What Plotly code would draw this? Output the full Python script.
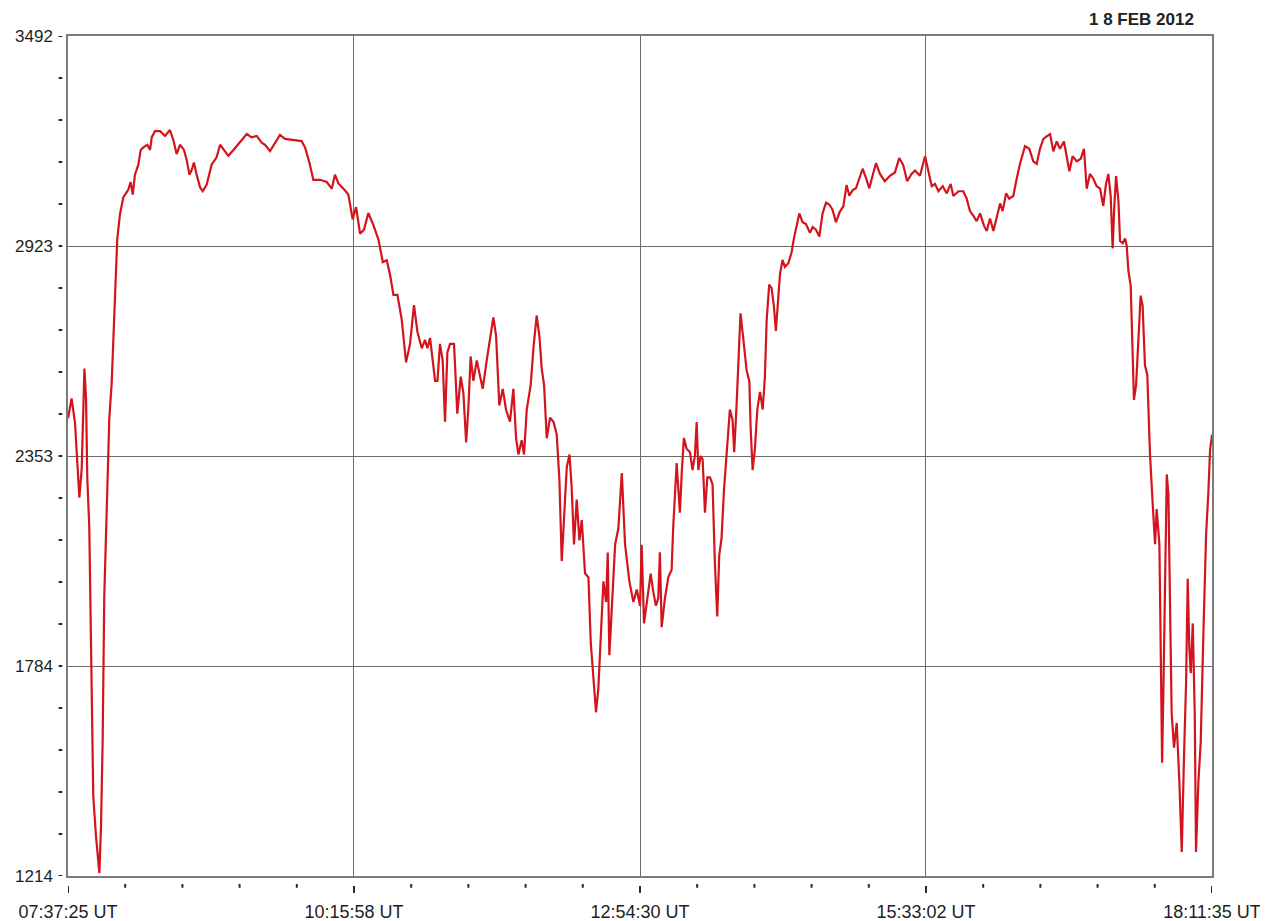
import pandas as pd
import plotly.graph_objects as go

# ---------------- data ----------------
start_time = "2012-02-18 07:37:25"
end_time = "2012-02-18 18:11:35"

# minutes elapsed since 07:37:25 UT
elapsed_min = [
    0.0, 2.0, 3.9, 6.3, 7.6, 8.1, 9.1, 10.0, 10.7, 11.8, 12.6, 13.1, 14.0, 15.5, 17.4,
    18.3, 19.2, 20.1, 21.4, 22.9, 24.2, 25.1, 26.1, 27.3, 28.8, 30.7, 33.4, 34.7, 35.9,
    37.1, 39.0, 40.3, 41.8, 44.0, 45.5, 46.4, 48.2, 51.0, 53.8, 56.5, 58.4, 60.2, 62.1,
    64.3, 65.8, 67.3, 68.6, 69.8, 71.3, 73.2, 74.7, 76.9, 79.6, 82.4, 84.3, 86.5, 88.9,
    91.7, 94.4, 97.2, 99.1, 101.8, 104.6, 107.4, 109.2, 112.0, 114.8, 117.5, 120.3,
    124.9, 129.5, 131.4, 133.8, 136.0, 139.7, 143.4, 146.2, 148.0, 149.9,
    153.6, 155.4, 157.8, 159.7, 161.9, 164.1, 166.5, 169.3, 172.1, 174.5, 176.7, 178.5,
    180.4, 182.6, 185.0, 187.4, 189.6, 191.8, 193.7, 196.1, 197.9, 199.2, 200.7, 203.5,
    204.8, 206.2, 207.7, 209.0, 210.3, 211.8, 214.0, 215.8, 217.7, 219.2, 220.7, 221.9,
    223.2, 224.7, 226.6, 228.0, 229.9, 232.1, 234.0, 235.8, 237.3, 239.1, 241.0, 242.8,
    245.0, 246.9, 248.4, 249.7, 251.5, 252.8, 254.3, 256.5, 258.0, 259.8, 261.3, 262.6,
    263.9, 265.4, 267.2, 269.1, 270.9, 272.4, 273.7, 275.0, 276.5, 278.0, 279.2, 280.5,
    282.0, 283.5, 284.8, 286.6, 288.5, 289.8, 291.2, 292.7, 294.0, 295.3, 296.8, 298.3,
    299.2, 300.1, 301.4, 303.3, 305.1, 307.0, 308.8, 311.2, 313.4, 315.3, 317.1,
    318.0, 319.3, 321.1, 323.0, 324.4, 325.9, 327.2, 328.1, 329.1, 330.9, 332.8, 334.6,
    335.5, 336.5, 337.4, 338.3, 339.2, 340.2, 341.4, 342.9, 344.8, 346.2, 347.5, 348.5,
    349.4, 350.7, 351.8, 353.1, 354.4, 355.9, 357.3, 358.6, 359.9, 361.0, 362.3, 363.6,
    365.5, 366.9, 368.4, 369.3, 370.6, 371.6, 372.8, 374.3, 376.2, 377.7, 378.4, 379.5,
    380.8, 382.1, 383.6, 385.1, 386.3, 387.3, 388.7, 390.0, 391.3, 392.4, 393.7, 394.7,
    396.1, 397.4, 399.3, 401.1, 402.4, 403.9, 405.4, 407.2, 409.1, 411.3, 412.8, 414.6,
    416.5, 418.3, 420.2, 422.0, 423.8, 425.7, 427.9, 429.8, 431.6, 433.1, 435.0, 436.8,
    438.6, 440.5, 442.3, 444.2, 446.0, 447.9, 450.1, 452.8, 455.6, 458.4, 460.8, 463.0,
    465.2, 467.6, 469.5, 472.3,
    475.1, 476.9, 478.8, 480.6, 482.5, 484.9, 487.1, 489.3, 490.8, 493.6, 496.3, 498.2,
    500.0, 501.9, 503.7, 505.6, 507.8, 509.3, 511.1, 513.0, 514.8, 516.7, 518.1, 520.0,
    521.8, 524.0, 525.9, 527.7, 530.5, 532.9, 535.1, 537.0, 538.8, 540.7, 542.5, 544.4,
    546.2, 548.1, 549.9, 552.1, 553.6, 555.1, 556.9, 559.2, 561.4, 563.2, 564.7, 566.5,
    568.4, 570.2, 572.1, 573.9, 575.4, 576.7, 578.0, 579.1, 580.0, 581.0, 582.3, 583.2,
    584.7, 586.0, 586.9, 587.8, 589.1, 590.2, 590.9, 592.1, 593.3, 594.6, 595.7, 597.0,
    598.3, 599.8, 601.3, 602.6, 603.5, 605.0, 605.7, 606.5, 607.2, 608.1, 609.1, 610.0,
    610.9, 611.8, 613.1, 614.6, 616.1, 617.4, 618.7, 619.8, 620.7, 621.6, 622.4, 623.5,
    624.6, 625.3, 626.6, 627.9, 629.4, 630.9, 632.1, 633.1, 634.2,
]

flux = [
    2455, 2509, 2442, 2240, 2320, 2428, 2590, 2509, 2293, 2159, 1889, 1633, 1431, 1323, 1222,
    1350, 1579, 1970, 2213, 2455, 2550, 2657, 2806, 2941, 3008, 3055, 3075, 3096, 3062,
    3116, 3143, 3183, 3190, 3197, 3183, 3217, 3234, 3234, 3221, 3237, 3210, 3172, 3197,
    3183, 3156, 3116, 3129, 3149, 3116, 3082, 3071, 3089, 3143, 3163, 3197, 3183, 3167,
    3183, 3199, 3213, 3226, 3217, 3221, 3203, 3197, 3180, 3203, 3224, 3213,
    3210, 3207, 3190, 3149, 3102, 3102, 3096, 3078, 3116, 3092,
    3073, 3062, 2995, 3028, 2956, 2967, 3012, 2979, 2940, 2879, 2884, 2845,
    2790, 2790, 2723, 2607, 2657, 2762, 2690, 2645, 2668, 2645, 2673, 2557,
    2557, 2657, 2612, 2446, 2634, 2657, 2657, 2468, 2568, 2523, 2390, 2479,
    2623, 2557, 2612, 2579, 2535, 2612, 2679, 2729, 2679, 2490, 2535, 2479,
    2446, 2535, 2401, 2357, 2396, 2357, 2479, 2546, 2645, 2734, 2679, 2590,
    2546, 2401, 2457, 2446, 2412, 2290, 2068, 2190, 2323, 2357, 2268, 2113,
    2235, 2124, 2179, 2035, 2024, 1846, 1746, 1658, 1724, 1857, 2013, 1957,
    2091, 1813, 1935, 2113, 2157, 2307, 2113, 2013, 1957, 1991, 1946,
    2112, 1899, 1967, 2034, 1986, 1947, 1967, 2092, 1889, 1967, 2025, 2044,
    2160, 2276, 2334, 2266, 2199, 2305, 2402, 2373, 2363, 2315, 2353, 2445,
    2315, 2353, 2344, 2199, 2295, 2295, 2276, 2063, 1918, 2083, 2131, 2257,
    2402, 2479, 2450, 2363, 2489, 2624, 2740, 2673, 2585, 2556, 2431, 2315,
    2373, 2479, 2527, 2479, 2566, 2721, 2818, 2808, 2760, 2692, 2779, 2847,
    2885, 2866, 2876, 2905, 2943, 2982, 3011, 2987, 2982, 2958, 2974, 2967,
    2948, 3011, 3040, 3035, 3021, 2987, 3016, 3030, 3088, 3059, 3074, 3079,
    3103, 3132, 3108, 3079, 3113, 3147, 3118, 3098, 3113, 3122, 3161, 3142,
    3098, 3118, 3127, 3113,
    3166, 3125, 3085, 3091, 3071, 3085, 3065, 3091, 3058, 3071, 3071, 3051,
    3017, 3004, 2990, 3011, 2977, 2963, 2997, 2963, 3004, 3038, 3017, 3065,
    3051, 3058, 3105, 3145, 3193, 3186, 3152, 3145, 3186, 3213, 3220, 3226,
    3179, 3206, 3186, 3206, 3166, 3125, 3166, 3152, 3159, 3186, 3078, 3118,
    3105, 3085, 3078, 3031, 3091, 3118, 3058, 2916, 3031, 3112, 3044, 2936,
    2930, 2943, 2923, 2856, 2815, 2653, 2505, 2546, 2653, 2788, 2761, 2599,
    2573, 2357, 2222, 2114, 2209, 2114, 1845, 1521, 1710, 2047, 2303, 2249,
    1953, 1656, 1562, 1629, 1467, 1279, 1548, 1737, 2020, 1831, 1764, 1899,
    1656, 1279, 1467, 1575, 1872, 2141, 2249, 2370, 2411,
]

x_tick_labels = ["07:37:25 UT", "10:15:58 UT", "12:54:30 UT", "15:33:02 UT", "18:11:35 UT"]
y_tick_labels = ["1214", "1784", "2353", "2923", "3492"]
y_min, y_max = 1214, 3492
date_label = "1 8 FEB 2012"

# ---------------- derived ----------------
t0 = pd.Timestamp(start_time)
t1 = pd.Timestamp(end_time)
times = [t0 + pd.Timedelta(minutes=m) for m in elapsed_min]
span = t1 - t0
x_major = [t0 + span * k / 4 for k in range(5)]
x_minor = [t0 + span * k / 20 for k in range(21) if k % 5 != 0]
y_major = [y_min + (y_max - y_min) * k / 4 for k in range(5)]
y_minor = [y_min + (y_max - y_min) * k / 20 for k in range(21)]

fig = go.Figure()
fig.add_trace(go.Scatter(
    x=times, y=flux, mode="lines",
    line=dict(color="#d3141d", width=2.2),
    hoverinfo="skip", showlegend=False,
))

x_font = dict(family="Liberation Sans, Arial, sans-serif", size=18, color="#1e1e1e")
y_font = dict(family="Liberation Sans, Arial, sans-serif", size=17, color="#1e1e1e")
axis_line = "#7a7a7a"
grid_col = "#6a6a6a"

fig.update_xaxes(
    range=[t0, t1], tickmode="array", tickvals=x_major, ticktext=x_tick_labels,
    showgrid=True, gridcolor=grid_col, gridwidth=1,
    showline=True, linecolor=axis_line, linewidth=1.5, mirror=True,
    ticks="", tickfont=x_font, ticklabelstandoff=19, zeroline=False, automargin=False,
)
fig.update_yaxes(
    range=[y_min, y_max], tickmode="array", tickvals=y_major, ticktext=y_tick_labels,
    showgrid=True, gridcolor=grid_col, gridwidth=1,
    showline=True, linecolor=axis_line, linewidth=1.5, mirror=True,
    ticks="", tickfont=y_font, ticklabelstandoff=10, zeroline=False, automargin=False,
)

shapes = []
for v in y_minor:
    shapes.append(dict(type="line", xref="paper", yref="y", x0=-0.0082, x1=-0.0050,
                       y0=v, y1=v, line=dict(color="#2a2a2a", width=2)))
for t in x_major:
    shapes.append(dict(type="line", xref="x", yref="paper", x0=t, x1=t,
                       y0=-0.0119, y1=-0.0202, line=dict(color="#2a2a2a", width=2)))
for t in x_minor:
    shapes.append(dict(type="line", xref="x", yref="paper", x0=t, x1=t,
                       y0=-0.0095, y1=-0.0140, line=dict(color="#2a2a2a", width=2)))

# the page body adds an 8px offset, so margins are set to place the plot area
# at the reference position inside the browser window
fig.update_layout(
    width=1268, height=921, autosize=False,
    margin=dict(l=60, r=64, t=28, b=53),
    paper_bgcolor="white", plot_bgcolor="white",
    shapes=shapes,
    annotations=[dict(
        text="<b>" + date_label + "</b>", xref="paper", yref="paper",
        x=0.9860, y=1.020, xanchor="right", yanchor="middle", showarrow=False,
        font=dict(family="Liberation Sans, Arial, sans-serif", size=17, color="#222222"),
    )],
)

fig.write_html("out.html")
